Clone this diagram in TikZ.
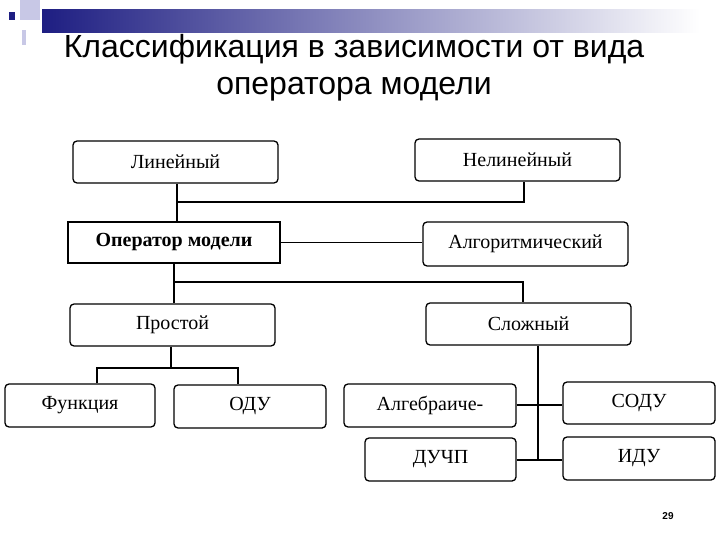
\documentclass[tikz,border=0pt]{standalone}
\usepackage{fontspec}
\setmainfont{Liberation Serif}
\newfontfamily\sansf{Liberation Sans}
\begin{document}
\begin{tikzpicture}[x=1pt,y=-1pt,
 box/.style={draw,rounded corners=4pt,line width=1.3pt,inner sep=0pt,font=\fontsize{20}{22}\selectfont},
 ln/.style={line width=1.5pt}]
\useasboundingbox (0,0) rectangle (720,540);
\definecolor{dblue}{RGB}{30,30,130}
\definecolor{lav}{RGB}{200,200,230}
\shade[left color=dblue,right color=white] (42,10) rectangle (700,33);
\fill[lav] (20,0) rectangle (40,20);
\fill[lav] (22,30) rectangle (26,45);
\fill[dblue] (9,12) rectangle (15,20);
\node[font=\sansf\fontsize{32}{37}\selectfont,align=center] (t) at (354,68) {Классификация в зависимости от вида\\оператора модели};
\node[font=\sansf\bfseries\fontsize{10}{12}\selectfont] (pg) at (668,516) {29};
\node[box,minimum width=205,minimum height=42] (lin) at (175.5,162) {Линейный};
\node[box,minimum width=205,minimum height=42] (nlin) at (517.5,160) {Нелинейный};
\node[box,rounded corners=0pt,line width=2.2pt,minimum width=212,minimum height=41,font=\bfseries\fontsize{20}{22}\selectfont] (op) at (174,242.5) {Оператор модели};
\node[box,minimum width=205,minimum height=44] (alg) at (525.5,244) {Алгоритмический};
\node[box,minimum width=205,minimum height=42] (pr) at (172.5,325) {Простой};
\node[box,minimum width=205,minimum height=42] (sl) at (528.5,324) {Сложный};
\node[box,minimum width=150,minimum height=43] (fn) at (80,405.5) {Функция};
\node[box,minimum width=152,minimum height=43] (odu) at (250,406.5) {ОДУ};
\node[box,minimum width=172,minimum height=43] (ag) at (430,405.5) {Алгебраиче-};
\node[box,minimum width=152,minimum height=42] (sodu) at (639,403) {СОДУ};
\node[box,minimum width=151,minimum height=43] (duchp) at (440.5,459.5) {ДУЧП};
\node[box,minimum width=152,minimum height=43] (idu) at (639,458.5) {ИДУ};
\coordinate (j1) at (177,202);
\coordinate (j2) at (174,282);
\coordinate (j3) at (171,368);
\draw[ln] (lin.south -| j1) -- (op.north -| j1);
\draw[ln] (j1) -| (nlin.south -| 524,0);
\draw[ln] (op.east) -- (alg.west |- op.east);
\draw[ln] (op.south -| j2) -- (pr.north -| j2);
\draw[ln] (j2) -| (sl.north -| 523,0);
\draw[ln] (pr.south -| j3) -- (j3);
\draw[ln] (fn.north -| 97,0) -- (97,368) -- (238,368) -- (odu.north -| 238,0);
\draw[ln] (sl.south -| 538,0) -- (538,460);
\draw[ln] (ag.east |- 0,405) -- (sodu.west |- 0,405);
\draw[ln] (duchp.east |- 0,460) -- (idu.west |- 0,460);
\end{tikzpicture}
\end{document}
